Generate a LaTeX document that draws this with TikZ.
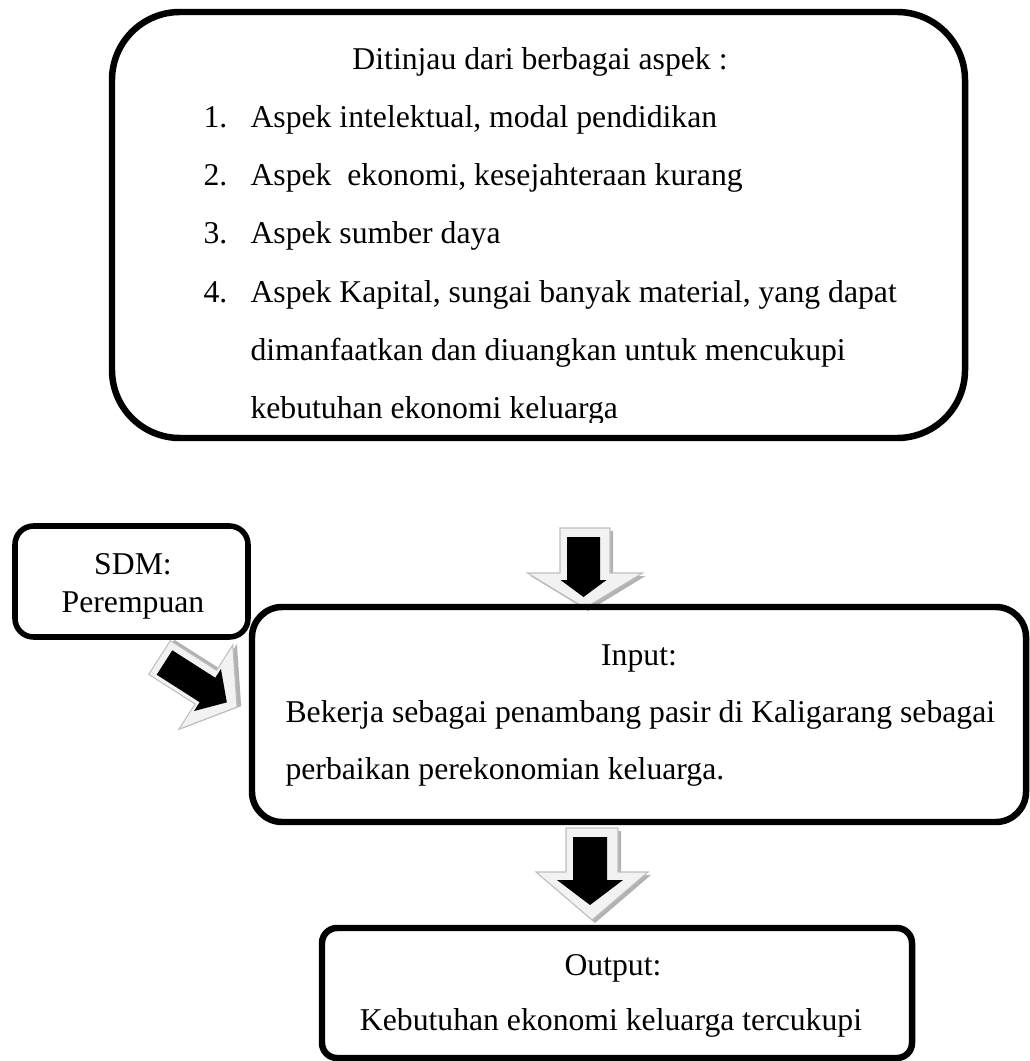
\documentclass[tikz,border=0pt]{standalone}
\usepackage{fontspec}
\setmainfont{Liberation Serif}
\usetikzlibrary{fit}
\newcommand\blkarrow[5]{%
  \fill[#1] (0,-#3) -- (#2,-#3) -- (#2,-#4) -- (#2+#5,0) -- (#2,#4) -- (#2,#3) -- (0,#3) -- cycle;}
\begin{document}
\begin{tikzpicture}[x=0.3785pt,y=-0.3785pt,
  boxline/.style={draw=black,line width=2.45pt,inner sep=0pt},
  txt/.style={inner sep=0pt,font=\fontsize{12pt}{14pt}\selectfont},
  shade3d/.style={fill=black!30},
  bevel/.style={fill=black!5,draw=black!25,line width=0.4pt},
  face/.style={fill=black}]
\useasboundingbox (0,0) rectangle (1029,1061);
% block arrows
\begin{scope}[shift={(585,528)},rotate=-90]
  \begin{scope}[shift={(3,-3)}]\blkarrow{shade3d}{45}{25}{57.5}{35}\end{scope}
  \blkarrow{bevel}{45}{25}{57.5}{35}
\end{scope}
\begin{scope}[shift={(583.5,537)},rotate=-90]
  \blkarrow{face}{43}{16.5}{23}{17}
\end{scope}
\begin{scope}[shift={(592,828)},rotate=-90]
  \begin{scope}[shift={(3,-3)}]\blkarrow{shade3d}{44}{26}{56}{48}\end{scope}
  \blkarrow{bevel}{44}{26}{56}{48}
\end{scope}
\begin{scope}[shift={(590,837)},rotate=-90]
  \blkarrow{face}{43}{17}{33}{25}
\end{scope}
\begin{scope}[shift={(159.5,657.5)},rotate=-32.6]
  \begin{scope}[shift={(3,-3)}]\blkarrow{shade3d}{55}{20}{50}{37}\end{scope}
  \blkarrow{bevel}{55}{20}{50}{37}
\end{scope}
\begin{scope}[shift={(164.5,662.5)},rotate=-32.6]
  \blkarrow{face}{51}{14.5}{25}{23}
\end{scope}
% boxes
\node[boxline,rounded corners=25.7pt,fit={(112,12) (965,438)}] (topbox) {};
\node[boxline,line width=2.1pt,rounded corners=7pt,fit={(15,526) (248,637)}] (sdmbox) {};
\node[boxline,rounded corners=11.4pt,fit={(252,607) (1026,822)}] (inputbox) {};
\node[boxline,rounded corners=5.7pt,fit={(322,928) (912,1058)}] (outputbox) {};
% texts
\node[txt,anchor=base] (title) at (540,70) {Ditinjau dari berbagai aspek :};
\node[txt,anchor=base west] (n1) at (203,128) {1.};
\node[txt,anchor=base west] (t1) at (250,128) {Aspek intelektual, modal pendidikan};
\node[txt,anchor=base west] (n2) at (203,186) {2.};
\node[txt,anchor=base west] (t2) at (250,186) {Aspek\ \ ekonomi, kesejahteraan kurang};
\node[txt,anchor=base west] (n3) at (203,244) {3.};
\node[txt,anchor=base west] (t3) at (250,244) {Aspek sumber daya};
\node[txt,anchor=base west] (n4) at (203,302) {4.};
\node[txt,anchor=base west] (t4) at (250,302) {Aspek Kapital, sungai banyak material, yang dapat};
\node[txt,anchor=base west] (t5) at (250,360) {dimanfaatkan dan diuangkan untuk mencukupi};
\begin{scope}
  \clip (200,370) rectangle (900,422);
  \node[txt,anchor=base west] (t6) at (250,418) {kebutuhan ekonomi keluarga};
\end{scope}
\node[txt,anchor=base] (sdm1) at (133,574) {SDM:};
\node[txt,anchor=base] (sdm2) at (133,612) {Perempuan};
\node[txt,anchor=base] (in1) at (639,665) {Input:};
\node[txt,anchor=base west] (in2) at (285,722) {Bekerja sebagai penambang pasir di Kaligarang sebagai};
\node[txt,anchor=base west] (in3) at (285,779) {perbaikan perekonomian keluarga.};
\node[txt,anchor=base] (out1) at (613,975) {Output:};
\node[txt,anchor=base] (out2) at (611,1030) {Kebutuhan ekonomi keluarga tercukupi};
\end{tikzpicture}
\end{document}
